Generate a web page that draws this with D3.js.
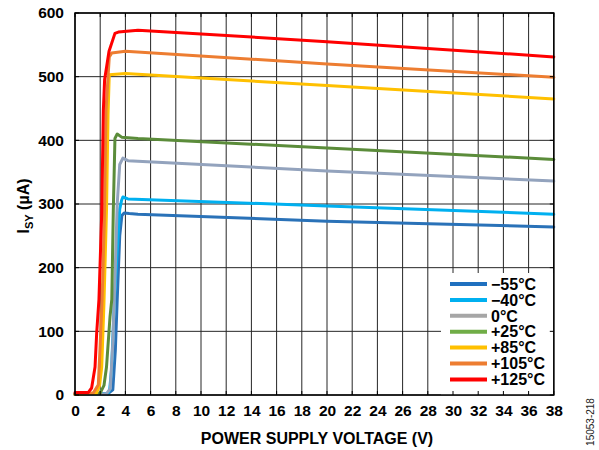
<!DOCTYPE html>
<html><head><meta charset="utf-8">
<script src="https://cdn.jsdelivr.net/npm/d3@7"></script>
<style>
html,body{margin:0;padding:0;background:#fff;}
svg{display:block;font-family:"Liberation Sans",Arial,sans-serif;}
</style></head>
<body>
<svg id="chart" width="599" height="450"></svg>
<script>
// ---- data (V, µA) ----
const xTicks = [0,2,4,6,8,10,12,14,16,18,20,22,24,26,28,30,32,34,36,38];
const yTicks = [0,100,200,300,400,500,600];
const seriesNames = ["\u221255\u00B0C","\u221240\u00B0C","0\u00B0C","+25\u00B0C","+85\u00B0C","+105\u00B0C","+125\u00B0C"];
const lineColors = ["#2a72b8","#00b0f0","#93a3bd","#5b8c3a","#ffc000","#ed7d31","#ff0000"];
const legendColors = ["#1f70bf","#00b0f0","#a6a6a6","#70ad47","#ffc000","#ed7d31","#ff0000"];
const sM55 = [[0,2],[2.6,2],[3.0,8],[3.2,70],[3.35,150],[3.55,250],[3.72,282],[3.9,286],[4.3,285],[5,284],[20,273],[38,264]];
const sM40 = [[0,1],[2.6,2],[2.75,8],[2.9,40],[3.12,145],[3.35,225],[3.55,292],[3.7,306],[3.8,311],[4.2,308],[20,297],[38,284]];
const s0 = [[0,1],[2.5,2],[2.8,10],[3.0,80],[3.2,200],[3.35,300],[3.55,362],[3.8,372],[4.2,368],[20,352],[38,336]];
const s25 = [[0,1],[2.0,3],[2.3,15],[2.5,44],[2.78,123],[2.92,150],[3.04,290],[3.17,403],[3.35,410],[3.7,405],[5,403],[20,388],[38,370]];
const s85 = [[0,1],[1.7,3],[1.95,15],[2.12,44],[2.3,145],[2.5,290],[2.62,440],[2.72,503],[4,505],[20,486],[38,465]];
const s105 = [[0,1],[1.45,3],[1.85,16],[1.98,71],[2.15,150],[2.33,275],[2.46,447],[2.72,531],[2.91,537],[4,540],[20,520],[38,499]];
const s125 = [[0,4],[1.06,4],[1.32,11],[1.59,44],[1.72,97],[1.9,150],[2.12,285],[2.25,447],[2.35,495],[2.7,540],[3.17,568],[3.44,570],[5,573],[20,555],[38,531]];
const seriesData = [sM55,sM40,s0,s25,s85,s105,s125];

const svg = d3.select("#chart");
const x = d3.scaleLinear().domain([0,38]).range([75,553.8]);
const y = d3.scaleLinear().domain([0,600]).range([395,13]);
const X0=x(0),X1=x(38),Y0=y(0),Y1=y(600);

// grid
const g = svg.append("g");
g.selectAll(".vg").data(xTicks).enter().append("line")
 .attr("x1",d=>x(d)).attr("x2",d=>x(d)).attr("y1",Y0).attr("y2",Y1)
 .attr("stroke","#262626").attr("stroke-width",1);
g.selectAll(".hg").data(yTicks).enter().append("line")
 .attr("x1",X0).attr("x2",X1).attr("y1",d=>y(d)).attr("y2",d=>y(d))
 .attr("stroke","#262626").attr("stroke-width",1);

// lines
const line = d3.line().x(d=>x(d[0])).y(d=>y(d[1]));
svg.append("g").selectAll("path").data(seriesData).enter().append("path")
 .attr("d",line).attr("fill","none")
 .attr("stroke",(d,i)=>lineColors[i]).attr("stroke-width",3)
 .attr("stroke-linejoin","round").attr("stroke-linecap","round");

// legend box
const lg = svg.append("g");
lg.append("rect").attr("x",441).attr("y",273).attr("width",X1-441).attr("height",Y0-273).attr("fill","#fff");
seriesNames.forEach((n,i)=>{
  const yy = 284 + i*15.9;
  lg.append("line").attr("x1",450).attr("x2",487).attr("y1",yy).attr("y2",yy)
    .attr("stroke",legendColors[i]).attr("stroke-width",4);
  lg.append("text").attr("x",491).attr("y",yy).attr("dy","0.36em")
    .attr("font-size",16).attr("font-weight","bold").attr("fill","#000").text(n);
});

// inner ticks
const tk = svg.append("g").attr("stroke","#000").attr("stroke-width",1);
xTicks.forEach(t=>{
  tk.append("line").attr("x1",x(t)).attr("x2",x(t)).attr("y1",Y0).attr("y2",Y0-4);
  tk.append("line").attr("x1",x(t)).attr("x2",x(t)).attr("y1",Y1).attr("y2",Y1+4);
});
yTicks.forEach(t=>{
  tk.append("line").attr("x1",X0).attr("x2",X0+4).attr("y1",y(t)).attr("y2",y(t));
  tk.append("line").attr("x1",X1).attr("x2",X1-4).attr("y1",y(t)).attr("y2",y(t));
});
// frame
svg.append("rect").attr("x",X0).attr("y",Y1).attr("width",X1-X0).attr("height",Y0-Y1)
 .attr("fill","none").attr("stroke","#000").attr("stroke-width",1.5);

// axes labels
const xAxis = d3.axisBottom(x).tickValues(xTicks).tickSize(0).tickPadding(10).tickFormat(d3.format("d"));
const xa = svg.append("g").attr("transform",`translate(0,${Y0})`).call(xAxis);
xa.select(".domain").remove();
xa.selectAll("text").attr("font-size",15.5).attr("font-weight","bold").attr("fill","#000").attr("font-family","Liberation Sans, Arial, sans-serif");
const yAxis = d3.axisLeft(y).tickValues(yTicks).tickSize(0).tickPadding(11).tickFormat(d3.format("d"));
const ya = svg.append("g").attr("transform",`translate(${X0},0)`).call(yAxis);
ya.select(".domain").remove();
ya.selectAll("text").attr("font-size",15.5).attr("font-weight","bold").attr("fill","#000").attr("font-family","Liberation Sans, Arial, sans-serif");

svg.append("text").attr("x",317).attr("y",444).attr("text-anchor","middle")
 .attr("font-size",16).attr("font-weight","bold").text("POWER SUPPLY VOLTAGE (V)");

const yl = svg.append("text").attr("transform","translate(29,206) rotate(-90)")
 .attr("text-anchor","middle").attr("font-size",16).attr("font-weight","bold");
yl.append("tspan").text("I");
yl.append("tspan").attr("font-size",11).attr("dy",4).text("SY");
yl.append("tspan").attr("dy",-4).text(" (\u00B5A)");

svg.append("text").attr("transform","translate(594,422) rotate(-90)")
 .attr("text-anchor","middle").attr("font-size",10).attr("fill","#222").text("15053-218");
</script>
</body></html>
